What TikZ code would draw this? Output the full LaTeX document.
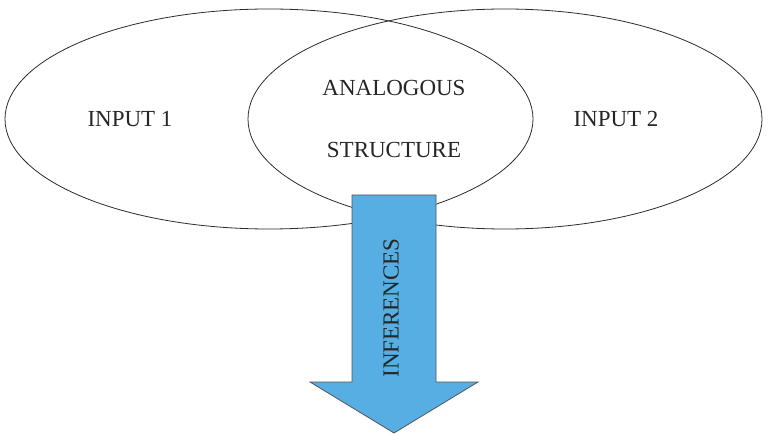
\documentclass[tikz,border=0pt]{standalone}
\usepackage{fontspec}
\setmainfont{Liberation Serif}
\usetikzlibrary{shapes.geometric}
\definecolor{arrowblue}{HTML}{56AEE2}
\definecolor{inkline}{HTML}{2B2B2B}
\begin{document}
\begin{tikzpicture}[x=1pt,y=-1pt,
  setoval/.style={ellipse,draw=inkline,line width=0.8pt,inner sep=0pt},
  label/.style={font=\fontsize{23}{26}\selectfont,text=black!85}]
\useasboundingbox (0,0) rectangle (768,435);
% the two overlapping sets
\node[setoval,minimum width=528pt,minimum height=220pt] (left) at (269,119) {};
\node[setoval,minimum width=514pt,minimum height=220pt] (right) at (505,119) {};
% set labels
\node[label] (in1) at (130,119) {INPUT 1};
\node[label] (in2) at (616,119) {INPUT 2};
\node[label] (ana) at (394,88) {ANALOGOUS};
\node[label] (str) at (394,150) {STRUCTURE};
% downward block arrow out of the overlap
\draw[fill=arrowblue,draw=inkline!80,line width=0.8pt]
  (352,195) -- (436,195) -- (436,382) -- (478,382) -- (394,433)
  -- (310,382) -- (352,382) -- cycle;
\node[label,rotate=90] (inf) at (391,308) {INFERENCES};
\end{tikzpicture}
\end{document}
